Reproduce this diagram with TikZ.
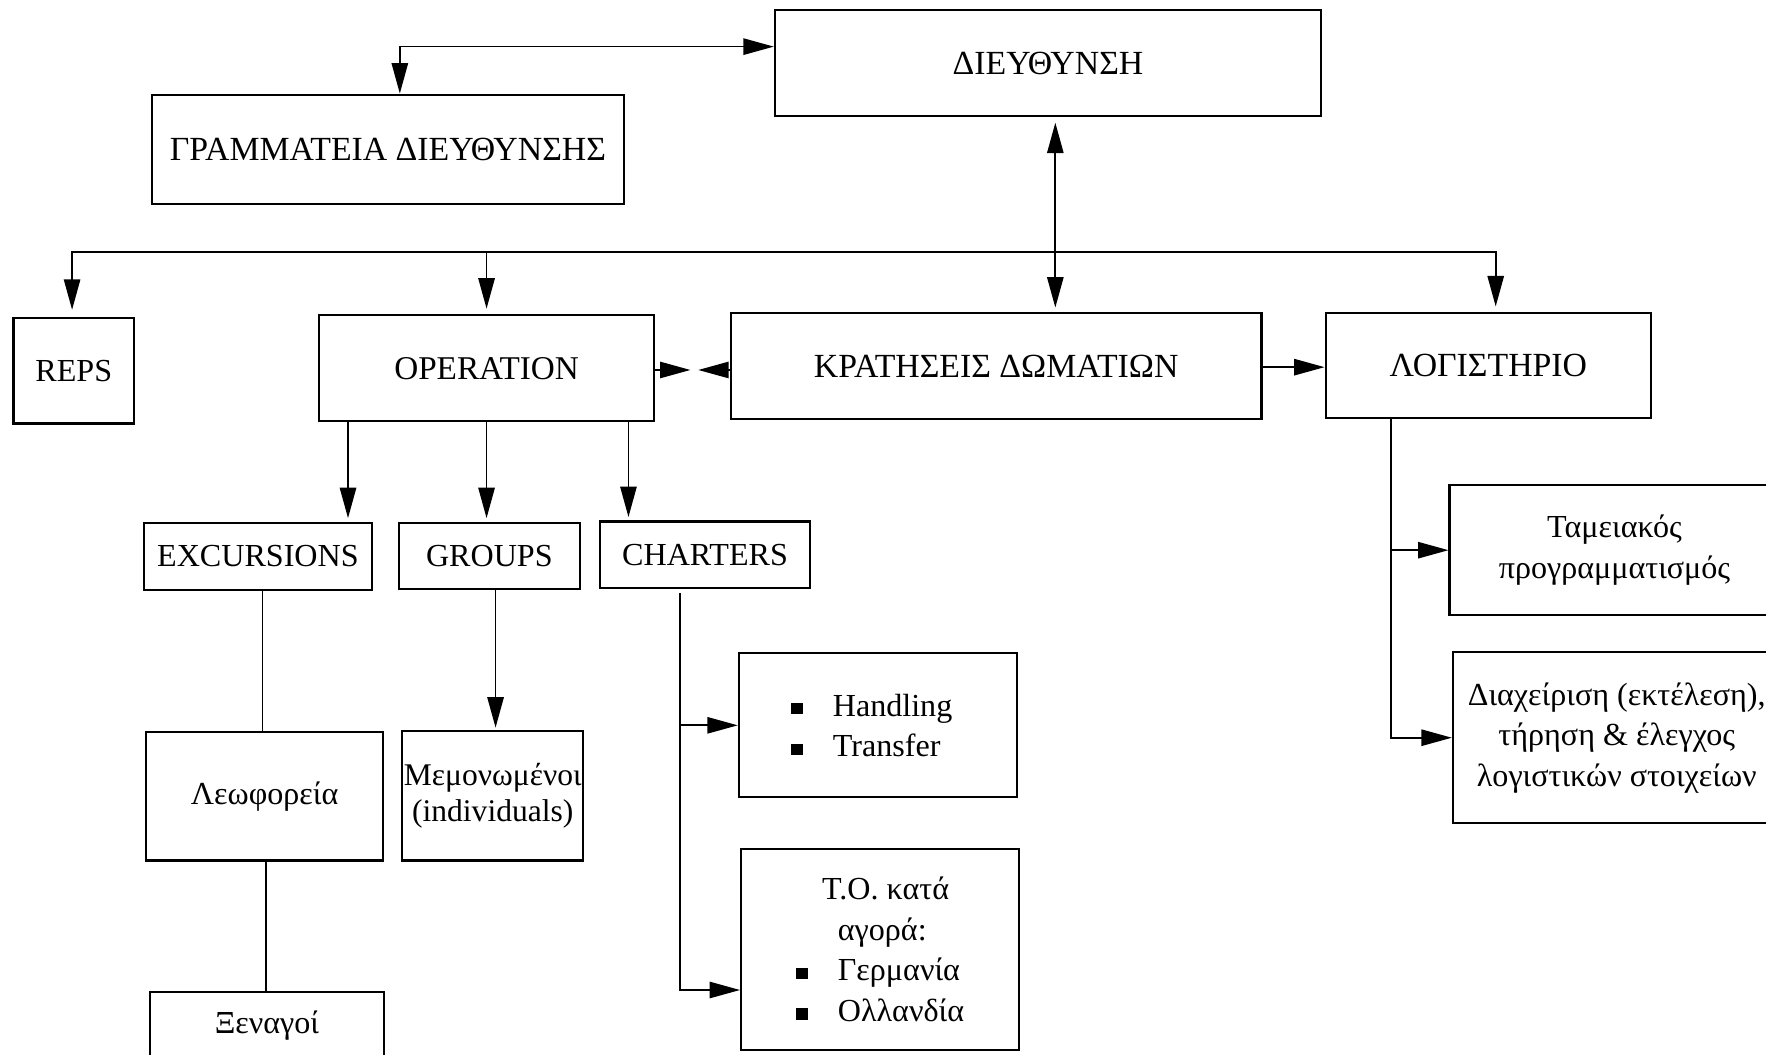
\documentclass[tikz,border=0pt]{standalone}
\usepackage{fontspec}
\setmainfont{Liberation Serif}
\usetikzlibrary{arrows.meta}
% small filled square used as a list bullet
\newcommand\sqbullet{\rule[1.5pt]{10.5pt}{10pt}\hspace*{26.5pt}}
\begin{document}
\begin{tikzpicture}[x=1pt,y=-1pt,
  box/.style={draw, rectangle, line width=1.9pt, inner sep=0pt, align=center,
    font=\fontsize{28.5}{36}\selectfont},
  caps/.style={font=\fontsize{30}{36}\selectfont},
  link/.style={line width=1.5pt, line cap=rect},
  tip/.tip={Triangle[length=27pt,width=14.5pt]},
  arr/.style={link, -tip},
  dbl/.style={link, tip-tip}]
\useasboundingbox[fill=white] (0,0) rectangle (1568,936);

% ---- boxes ----
\node[box, caps, minimum width=485pt, minimum height=94pt] (dieu) at (930.5,56) {ΔΙΕΥΘΥΝΣΗ};
\node[box, caps, minimum width=419pt, minimum height=97pt] (gram) at (344.5,132.5) {ΓΡΑΜΜΑΤΕΙΑ ΔΙΕΥΘΥΝΣΗΣ};
\node[box, minimum width=107pt, minimum height=94pt] (reps) at (65.5,329) {REPS};
\node[box, font=\fontsize{29.5}{36}\selectfont, minimum width=298pt, minimum height=94pt] (oper) at (432,327) {OPERATION};
\node[box, caps, minimum width=471pt, minimum height=94pt] (krat) at (884.5,325) {ΚΡΑΤΗΣΕΙΣ ΔΩΜΑΤΙΩΝ};
\node[box, caps, minimum width=289pt, minimum height=93pt] (logi) at (1321.5,324.5) {ΛΟΓΙΣΤΗΡΙΟ};

\node[box, minimum width=202pt, minimum height=60pt] (exc) at (229,494) {EXCURSIONS};
\node[box, minimum width=161pt, minimum height=59pt] (grp) at (434.5,493.5) {GROUPS};
\node[box, minimum width=186pt, minimum height=59pt] (cha) at (626,492.5) {CHARTERS};

\node[box, minimum width=210pt, minimum height=114pt] (leo) at (235,707) {Λεωφορεία};
\node[box, minimum width=161pt, minimum height=115pt, font=\fontsize{28}{32.5}\selectfont]
  (mem) at (437.5,706.5) {Μεμονωμένοι\\(individuals)};
\node[box, minimum width=208pt, text height=37pt, text depth=73pt, anchor=north]
  (xen) at (237,880) {Ξεναγοί};

\node[box, minimum width=247pt, minimum height=128pt, align=left] (hand) at (779.5,644)
  {\sqbullet Handling\hspace*{11pt}\\ \sqbullet Transfer};
\node[box, minimum width=247pt, minimum height=178pt, align=left] (tour) at (781.5,843)
  {\hspace*{23pt}T.O. κατά\\ \hspace*{37pt}αγορά:\\ \sqbullet Γερμανία\\ \sqbullet Ολλανδία};

\node[box, minimum width=293pt, minimum height=115pt] (tam) at (1433.5,488.5)
  {Ταμειακός\\προγραμματισμός};
\node[box, minimum width=291pt, minimum height=152pt] (diax) at (1435.5,655)
  {Διαχείριση (εκτέλεση),\\τήρηση \& έλεγχος\\λογιστικών στοιχείων};

% ---- reference coordinates for connector lines ----
\coordinate (gk) at (355,41.4);
\coordinate (vk) at (937,0);
\coordinate (bus) at (0,224);
\coordinate (rx) at (64,0);
\coordinate (lx) at (1328,0);
\coordinate (ma) at (613,328.5);
\coordinate (mb) at (620,328.5);
\coordinate (kl) at (0,326);
\coordinate (ex) at (309,0);
\coordinate (gx) at (432,0);
\coordinate (cx) at (558,0);
\coordinate (e1) at (233,0);
\coordinate (e2) at (236,0);
\coordinate (m1) at (440,0);
\coordinate (c1) at (604,0);
\coordinate (tb) at (0,879);
\coordinate (l1) at (1235,0);

% ---- connectors ----
\draw[dbl] (gk -| dieu.west) -- (gk) -- (gram.north -| gk);
\draw[dbl, shorten <=5pt, shorten >=4pt] (dieu.south -| vk) -- (krat.north -| vk);

\draw[dbl, shorten <=6pt, shorten >=5pt]
  (reps.north -| rx) -- (bus -| rx) -- (bus -| lx) -- (logi.north -| lx);
\draw[arr, shorten >=5pt] (bus -| oper.north) -- (oper.north);

\draw[arr] (ma -| oper.east) -- (ma);
\draw[arr] (mb -| krat.west) -- (mb);
\draw[arr] (kl -| krat.east) -- (kl -| logi.west);

\draw[arr, shorten >=3pt] (oper.south -| ex) -- (exc.north -| ex);
\draw[arr, shorten >=3pt] (oper.south -| gx) -- (grp.north -| gx);
\draw[arr, shorten >=3pt] (oper.south -| cx) -- (cha.north -| cx);

\draw[link] (exc.south -| e1) -- (leo.north -| e1);
\draw[link] (leo.south -| e2) -- (xen.north -| e2);
\draw[arr, shorten >=2pt] (grp.south -| m1) -- (mem.north -| m1);

\draw[arr, shorten <=4.5pt] (cha.south -| c1) |- (hand.west);
\draw[arr, shorten <=4.5pt] (cha.south -| c1) |- (tb -| tour.west);

\draw[arr] (logi.south -| l1) |- (tam.west);
\draw[arr] (logi.south -| l1) |- (diax.west);
\end{tikzpicture}
\end{document}
